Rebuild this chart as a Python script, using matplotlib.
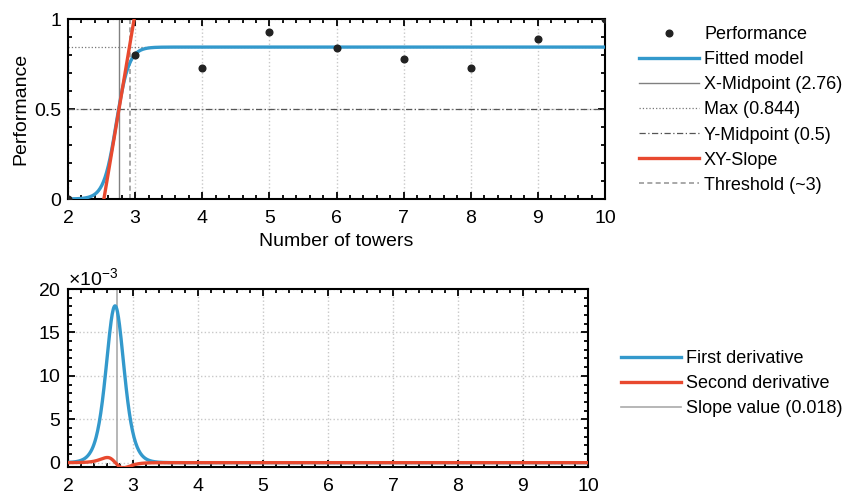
import numpy as np
import matplotlib
matplotlib.use('Agg')
from matplotlib import pyplot as plt
from matplotlib.ticker import MultipleLocator, FuncFormatter, ScalarFormatter

plt.rcParams['font.family'] = ['Liberation Sans', 'DejaVu Sans']
plt.rcParams['mathtext.fontset'] = 'custom'
plt.rcParams['mathtext.rm'] = 'Liberation Sans'

# measured performance
towers = [2, 3, 4, 5, 6, 7, 8, 9, 10]
perf = [0.0, 0.80, 0.73, 0.93, 0.84, 0.78, 0.73, 0.89, 1.0]

y_max = 0.844
x_mid = 2.76
y_mid = 0.5
k_fit = 10.7
x_peak = 2.72
xy_slope = 2.22
threshold = 2.92
slope_value = 0.018

blue = '#3399cc'
red = '#e8492f'

x = np.linspace(2, 10, 1001)
fit = y_max / (1 + np.exp(-k_fit * (x - x_peak)))
d1 = np.diff(fit)
d2 = np.diff(d1)

fig = plt.figure(figsize=(8.42, 4.94), dpi=100)
ax1 = fig.add_axes([68/842, 1-199/494, 537/842, 180/494])
ax2 = fig.add_axes([68/842, 1-467/494, 520/842, 178/494])

def style(ax):
	for s in ax.spines.values():
		s.set_linewidth(1.5)
	ax.tick_params(which='both', direction='in', top=True, right=True, labelsize=14, width=1.3, pad=5)
	ax.tick_params(axis='x', which='both', pad=8)
	ax.tick_params(which='major', length=5)
	ax.tick_params(which='minor', length=3)
	ax.grid(True, which='major', linestyle=':', color='#c8c8c8', linewidth=1)
	ax.set_axisbelow(True)

# ---- top panel
ax1.plot(towers, perf, 'o', color='#222222', markersize=4.8, label='Performance', zorder=5)
ax1.plot(x, fit, color=blue, lw=2.4, label='Fitted model', zorder=3)
ax1.axvline(x_mid, color='#808080', lw=1, label='X-Midpoint (%.2f)' % x_mid, zorder=2)
ax1.axhline(y_max, color='#777777', lw=0.9, ls=':', label='Max (%.3f)' % y_max, zorder=2)
ax1.axhline(y_mid, color='#555555', lw=0.9, ls='-.', dashes=(5, 2, 1, 2), label='Y-Midpoint (%g)' % y_mid, zorder=2)
xs = np.array([2.4, 3.1])
ax1.plot(xs, y_mid + xy_slope*(xs - x_mid), color=red, lw=2.4, label='XY-Slope', zorder=4)
ax1.axvline(threshold, color='#999999', lw=1.2, ls='--', dashes=(3, 2), label='Threshold (~3)', zorder=2)
ax1.set_xlim(2, 10)
ax1.set_ylim(0, 1)
ax1.xaxis.set_major_locator(MultipleLocator(1))
ax1.xaxis.set_minor_locator(MultipleLocator(0.2))
ax1.yaxis.set_major_locator(MultipleLocator(0.5))
ax1.yaxis.set_minor_locator(MultipleLocator(0.1))
ax1.yaxis.set_major_formatter(FuncFormatter(lambda v, p: '%g' % v))
ax1.set_xlabel('Number of towers', fontsize=14, labelpad=4)
ax1.set_ylabel('Performance', fontsize=14, labelpad=3)
style(ax1)
ax1.legend(loc='upper left', bbox_to_anchor=(639/842, 1-26/494), bbox_transform=fig.transFigure,
	frameon=False, fontsize=13, handlelength=3.3, handletextpad=0.3, labelspacing=0.45,
	borderaxespad=0, borderpad=0, numpoints=1)

# ---- bottom panel
ax2.plot(x[1:], d1, color=blue, lw=2.4, label='First derivative', zorder=3)
ax2.plot(x[2:], d2, color=red, lw=2.4, label='Second derivative', zorder=4)
ax2.axvline(x_mid, color='#aaaaaa', lw=1.2, label='Slope value (%.3f)' % slope_value, zorder=2)
ax2.set_xlim(2, 10)
ax2.set_ylim(-0.5e-3, 20e-3)
ax2.xaxis.set_major_locator(MultipleLocator(1))
ax2.xaxis.set_minor_locator(MultipleLocator(0.2))
ax2.yaxis.set_major_locator(MultipleLocator(0.005))
ax2.yaxis.set_minor_locator(MultipleLocator(0.001))
fmt = ScalarFormatter(useMathText=True)
fmt.set_powerlimits((-3, -3))
ax2.yaxis.set_major_formatter(fmt)
ax2.yaxis.get_offset_text().set_fontsize(14)
style(ax2)
ax2.legend(loc='upper left', bbox_to_anchor=(621/842, 1-350/494), bbox_transform=fig.transFigure,
	frameon=False, fontsize=13, handlelength=3.3, handletextpad=0.3, labelspacing=0.45,
	borderaxespad=0, borderpad=0)

plt.savefig('out.png', dpi=100)
plt.close()
